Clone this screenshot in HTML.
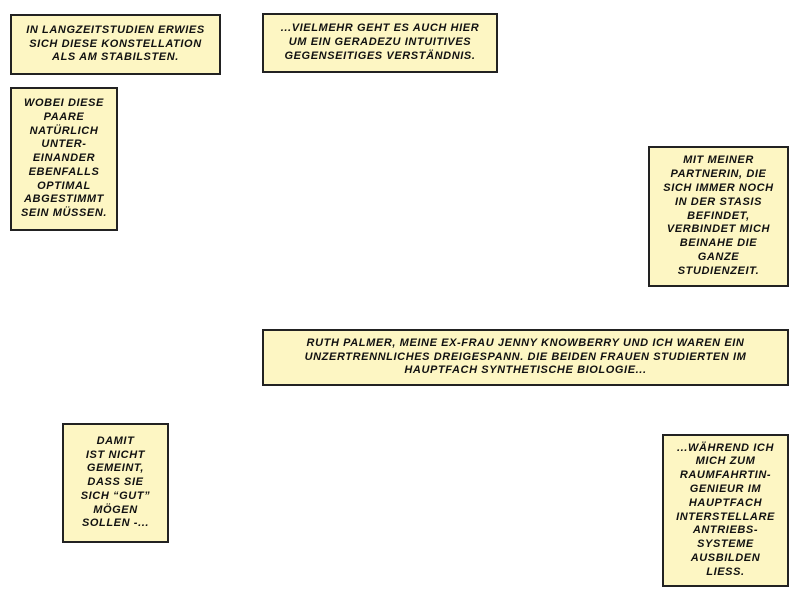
<!DOCTYPE html>
<html><head><meta charset="utf-8"><style>
body{margin:0;width:800px;height:600px;background:#fff;position:relative;overflow:hidden}
.b{position:absolute;box-sizing:border-box;background:#fdf6c3;border:2px solid #222;display:flex;align-items:center;justify-content:center;text-align:center;font-family:"Liberation Sans",sans-serif;font-weight:bold;font-style:italic;font-size:11px;line-height:13.8px;color:#111;text-transform:uppercase;letter-spacing:0.6px}
</style></head><body>
<div class="b" style="left:10px;top:14px;width:211px;height:61px">In Langzeitstudien erwies<br>sich diese Konstellation<br>als am stabilsten.</div>
<div class="b" style="left:262px;top:13px;width:236px;height:60px">...vielmehr geht es auch hier<br>um ein geradezu intuitives<br>gegenseitiges Verständnis.</div>
<div class="b" style="left:10px;top:87px;width:108px;height:144px">Wobei diese<br>Paare<br>natürlich<br>unter-<br>einander<br>ebenfalls<br>optimal<br>abgestimmt<br>sein müssen.</div>
<div class="b" style="left:648px;top:146px;width:141px;height:141px">Mit meiner<br>Partnerin, die<br>sich immer noch<br>in der Stasis<br>befindet,<br>verbindet mich<br>beinahe die<br>ganze<br>Studienzeit.</div>
<div class="b" style="left:262px;top:329px;width:527px;height:57px">Ruth Palmer, meine Ex-Frau Jenny Knowberry und ich waren ein<br>unzertrennliches Dreigespann. Die beiden Frauen studierten im<br>Hauptfach synthetische Biologie...</div>
<div class="b" style="left:62px;top:423px;width:107px;height:120px">Damit<br>ist nicht<br>gemeint,<br>dass sie<br>sich “gut”<br>mögen<br>sollen -...</div>
<div class="b" style="left:662px;top:434px;width:127px;height:153px">...während ich<br>mich zum<br>Raumfahrtin-<br>genieur im<br>Hauptfach<br>interstellare<br>Antriebs-<br>systeme<br>ausbilden<br>liess.</div>
</body></html>
